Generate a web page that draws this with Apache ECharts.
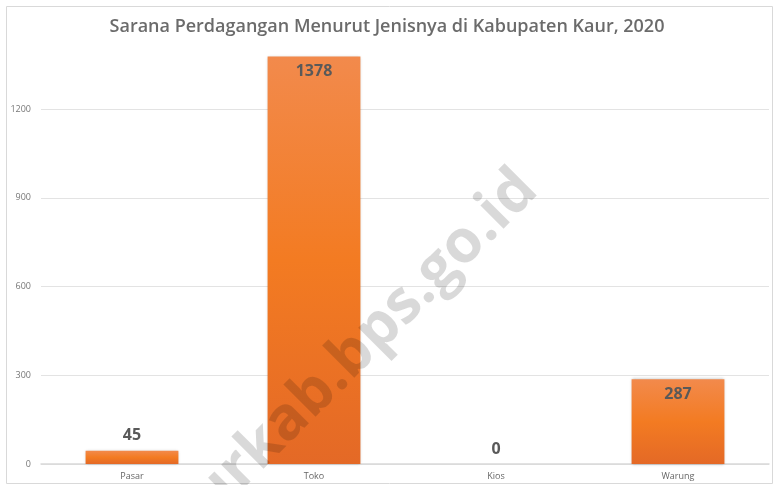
<!DOCTYPE html>
<html>
<head>
<meta charset="utf-8">
<title>Sarana Perdagangan Kabupaten Kaur 2020</title>
<script src="https://cdn.jsdelivr.net/npm/echarts@6/dist/echarts.min.js"></script>
<style>
  html, body { margin: 0; padding: 0; background: #fff; }
  #chart { width: 774px; height: 485px; }
</style>
</head>
<body>
<div id="chart"></div>
<script>
const categories = ['Pasar', 'Toko', 'Kios', 'Warung']
const values = [45, 1378, 0, 287]
// where the value label sits, as in the source picture
const labelPositions = ['top', 'insideTop', 'top', 'insideTop']
const yTicks = [0, 300, 600, 900, 1200]

const chart = echarts.init(document.getElementById('chart'))

const barColor = new echarts.graphic.LinearGradient(0, 0, 0, 1, [
  { offset: 0, color: '#F28A4C' },
  { offset: 0.5, color: '#F37B22' },
  { offset: 1, color: '#E46926' }
])

const option = {
  animation: false,
  title: {
    text: 'Sarana Perdagangan Menurut Jenisnya di Kabupaten Kaur, 2020',
    left: 'center',
    top: 13,
    textStyle: {
      fontFamily: 'Open Sans',
      fontSize: 18,
      fontWeight: 600,
      color: '#6b6b6b'
    }
  },
  grid: {
    left: 41,
    right: 5,
    top: 20.5,
    bottom: 21,
    containLabel: false
  },
  xAxis: {
    type: 'category',
    data: categories,
    axisTick: { show: false },
    axisLine: { lineStyle: { color: '#d9d9d9', width: 1.5 } },
    axisLabel: {
      color: '#666',
      fontSize: 9,
      fontFamily: 'Open Sans',
      margin: 8
    }
  },
  yAxis: {
    type: 'value',
    min: 0,
    max: 1500,
    interval: 300,
    axisLine: { show: false },
    axisTick: { show: false },
    axisLabel: {
      color: '#777',
      fontSize: 9,
      fontFamily: 'Open Sans',
      margin: 10,
      formatter: v => (yTicks.includes(v) ? String(v) : '')
    },
    splitLine: {
      showMaxLine: false,
      lineStyle: { color: '#e3e3e3' }
    }
  },
  series: [
    {
      type: 'bar',
      barWidth: '51%',
      data: values.map((v, i) => ({
        value: v,
        label: { position: labelPositions[i] }
      })),
      itemStyle: {
        color: barColor,
        shadowBlur: 3,
        shadowColor: 'rgba(0,0,0,0.3)'
      },
      label: {
        show: true,
        distance: 7,
        color: '#595959',
        fontSize: 16,
        fontWeight: 'bold',
        fontFamily: 'Open Sans'
      }
    }
  ],
  graphic: [
    {
      type: 'rect',
      left: 4,
      top: 4,
      shape: { width: 766, height: 477 },
      style: { fill: 'none', stroke: '#d9d9d9', lineWidth: 1 },
      silent: true,
      z: -10
    },
    {
      type: 'text',
      x: 528,
      y: 180,
      rotation: Math.PI / 4,
      z: 100,
      silent: true,
      style: {
        text: 'kaurkab.bps.go.id',
        align: 'right',
        verticalAlign: 'middle',
        fill: 'rgba(0,0,0,0.15)',
        font: 'bold 60px "Open Sans"'
      }
    }
  ]
}

chart.setOption(option)
</script>
</body>
</html>
